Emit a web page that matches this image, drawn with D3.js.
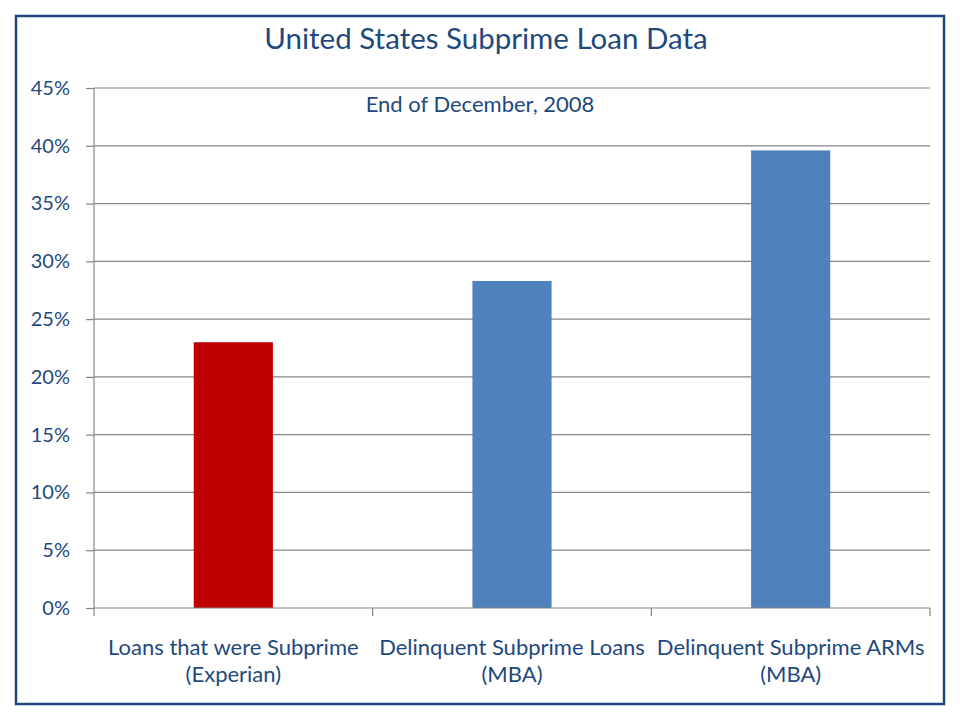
<!DOCTYPE html>
<html>
<head>
<meta charset="utf-8">
<script src="https://cdnjs.cloudflare.com/ajax/libs/d3/7.8.5/d3.min.js"></script>
<style>
  body { margin: 0; background: #fff; }
  text { font-family: Lato, "Open Sans", sans-serif; fill: #1F497D; }
</style>
</head>
<body>
<div id="chart"></div>
<script>
// data
var categories = [
  ["Loans that were Subprime", "(Experian)"],
  ["Delinquent Subprime Loans", "(MBA)"],
  ["Delinquent Subprime ARMs", "(MBA)"]
];
var values = [0.23, 0.283, 0.396];
var barColors = ["#C00000", "#4F81BD", "#4F81BD"];
var yTicks = [0, 0.05, 0.10, 0.15, 0.20, 0.25, 0.30, 0.35, 0.40, 0.45];

var title = "United States Subprime Loan Data";
var subtitle = "End of December, 2008";

var width = 960, height = 720;
var margin = {top: 88, right: 30, bottom: 112, left: 94};
var w = width - margin.left - margin.right,
    h = height - margin.top - margin.bottom;

var svg = d3.select("#chart").append("svg")
  .attr("width", width)
  .attr("height", height);

// outer frame
svg.append("rect")
  .attr("x", 16).attr("y", 16)
  .attr("width", 928).attr("height", 688)
  .attr("fill", "none")
  .attr("stroke", "#1F497D")
  .attr("stroke-width", 2.5);

svg.append("text")
  .attr("x", 486).attr("y", 49)
  .attr("text-anchor", "middle")
  .style("font-size", "29.5px")
  .text(title);

var g = svg.append("g")
  .attr("transform", "translate(" + margin.left + "," + margin.top + ")");

var x = d3.scaleBand()
  .domain(d3.range(categories.length))
  .range([0, w])
  .padding(0);

var y = d3.scaleLinear()
  .domain([0, 0.45])
  .range([h, 0]);

// gridlines
g.append("g")
  .selectAll("line")
  .data(yTicks.slice(1))
  .join("line")
  .attr("x1", 0).attr("x2", w)
  .attr("y1", d => y(d)).attr("y2", d => y(d))
  .attr("stroke", "#868686")
  .attr("stroke-width", 1.2);

// y axis
var yAxis = g.append("g")
  .call(d3.axisLeft(y).tickValues(yTicks).tickFormat(d3.format(".0%")).tickSize(8).tickPadding(16));
yAxis.select(".domain").attr("stroke", "#868686").attr("stroke-width", 1.2).attr("d", "M0," + h + "V0");
yAxis.selectAll(".tick line").attr("stroke", "#868686").attr("stroke-width", 1.2);
yAxis.selectAll(".tick text").style("font-size", "20px").attr("fill", "#1F497D");

// bars
var barW = x.bandwidth() * 0.284;
g.append("g")
  .selectAll("rect")
  .data(values)
  .join("rect")
  .attr("x", (d, i) => x(i) + x.bandwidth() / 2 - barW / 2)
  .attr("y", d => y(d))
  .attr("width", barW)
  .attr("height", d => h - y(d))
  .attr("fill", (d, i) => barColors[i]);

// x axis
var xAxis = g.append("g")
  .attr("transform", "translate(0," + h + ")");
xAxis.append("line")
  .attr("x1", 0).attr("x2", w)
  .attr("stroke", "#868686").attr("stroke-width", 1.2);
xAxis.selectAll(".xtick")
  .data(d3.range(categories.length + 1))
  .join("line")
  .attr("class", "xtick")
  .attr("x1", d => d * x.step()).attr("x2", d => d * x.step())
  .attr("y1", 0).attr("y2", 8)
  .attr("stroke", "#868686").attr("stroke-width", 1.2);

var labels = xAxis.selectAll(".xlabel")
  .data(categories)
  .join("text")
  .attr("class", "xlabel")
  .attr("text-anchor", "middle")
  .attr("transform", (d, i) => "translate(" + (x(i) + x.bandwidth() / 2) + ",47)")
  .style("font-size", "22px");
labels.selectAll("tspan")
  .data(d => d)
  .join("tspan")
  .attr("x", 0)
  .attr("dy", (d, i) => i === 0 ? 0 : 27)
  .text(d => d);

// subtitle inside plot
g.append("text")
  .attr("x", 480 - margin.left).attr("y", 24)
  .attr("text-anchor", "middle")
  .style("font-size", "22px")
  .text(subtitle);
</script>
</body>
</html>
